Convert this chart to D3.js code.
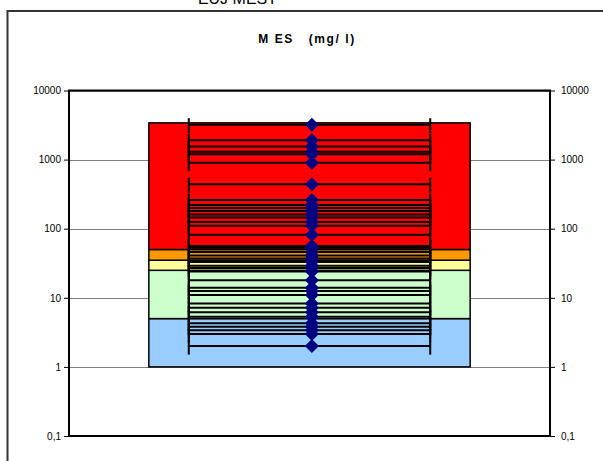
<!DOCTYPE html>
<html><head><meta charset="utf-8">
<script src="https://cdn.jsdelivr.net/npm/d3@7"></script>
<style>body{margin:0;background:#fff}svg{display:block}text{font-family:"Liberation Sans",Arial,sans-serif}</style>
</head><body><svg id="c" width="603" height="461"></svg>
<script>
const bandBounds = [1, 5, 25, 35, 50, 3400];
const bandColors = ["#99ccff", "#ccffcc", "#ffff99", "#ff9900", "#ff0000"];
const measures = [3200, 1900, 1550, 1300, 1200, 900, 440, 260, 220, 200, 180, 160, 145, 125, 110, 82,
  56, 53, 46, 41, 37, 33, 29, 27, 24, 18, 14, 12.5, 11, 8.3, 7.2, 6.2, 5.3, 4.3, 3.8, 3.4, 3.0, 2.0];
const tickValues = [0.1, 1, 10, 100, 1000, 10000];
const tickLabels = ["0,1", "1", "10", "100", "1000", "10000"];
const title = "M ES   (mg/ l)";
const topText = "EUJ MEST";

const svg = d3.select("#c");
const L = 69, R = 550, T = 90.5, B = 436;
const y = d3.scaleLog().domain([0.1, 10000]).range([B, T]);
const x = d3.scaleLinear().domain([0, 1]).range([L, R]);

// outer chart border
svg.append("text").attr("x", 277).attr("y", 4).attr("text-anchor", "end")
  .attr("font-size", 16).attr("fill", "#000").text(topText);
svg.append("path").attr("d", `M7.5,461 V11 H603`).attr("fill", "none").attr("stroke", "#333").attr("stroke-width", 2);

svg.append("text").attr("x", 307).attr("y", 43).attr("text-anchor", "middle")
  .attr("font-size", 12).attr("font-weight", "bold").attr("letter-spacing", 1.6).style("white-space", "pre").text(title);

// gridlines
svg.append("g").selectAll("line").data(tickValues).join("line")
  .attr("x1", L).attr("x2", R).attr("y1", d => Math.round(y(d)) + 0.5).attr("y2", d => Math.round(y(d)) + 0.5)
  .attr("stroke", "#808080").attr("stroke-width", 1);

// axes
const fmt = d => tickLabels[tickValues.indexOf(d)];
const la = svg.append("g").attr("transform", `translate(${L},0)`)
  .call(d3.axisLeft(y).tickValues(tickValues).tickFormat(fmt).tickSize(5).tickPadding(3));
const ra = svg.append("g").attr("transform", `translate(${R},0)`)
  .call(d3.axisRight(y).tickValues(tickValues).tickFormat(fmt).tickSize(5).tickPadding(6));
[la, ra].forEach(g => {
  g.select(".domain").remove();
  g.selectAll("line").attr("stroke", "#000");
  g.selectAll("text").attr("font-size", 10).attr("font-family", "Liberation Sans, Arial, sans-serif").attr("fill", "#000");
});

// bands
const bx0 = x(0.166), bx1 = x(0.834);
svg.append("g").selectAll("rect").data(bandColors).join("rect")
  .attr("x", bx0).attr("width", bx1 - bx0)
  .attr("y", (c, i) => y(bandBounds[i + 1])).attr("height", (c, i) => y(bandBounds[i]) - y(bandBounds[i + 1]))
  .attr("fill", c => c).attr("stroke", "#000").attr("stroke-width", 1.5);

// measurement lines
const lx0 = x(0.249), lx1 = x(0.751), cx = x(0.505);
const g = svg.append("g");
g.selectAll("line.h").data(measures).join("line").attr("class", "h")
  .attr("x1", lx0).attr("x2", lx1).attr("y1", d => y(d)).attr("y2", d => y(d))
  .attr("stroke", "#000").attr("stroke-width", 2);
[lx0, lx1].forEach(px => {
  g.selectAll(null).data(measures).join("line")
    .attr("x1", px).attr("x2", px).attr("y1", d => y(d) - 6.5).attr("y2", d => y(d) + 8.5)
    .attr("stroke", "#000").attr("stroke-width", 2);
});
g.selectAll("path.m").data(measures).join("path").attr("class", "m")
  .attr("d", d3.symbol(d3.symbolSquare, 98))
  .attr("transform", d => `translate(${cx},${y(d)}) rotate(45)`)
  .attr("fill", "#000080");

// plot border
svg.append("rect").attr("x", L).attr("y", T).attr("width", R - L).attr("height", B - T)
  .attr("fill", "none").attr("stroke", "#000").attr("stroke-width", 2);
</script></body></html>
